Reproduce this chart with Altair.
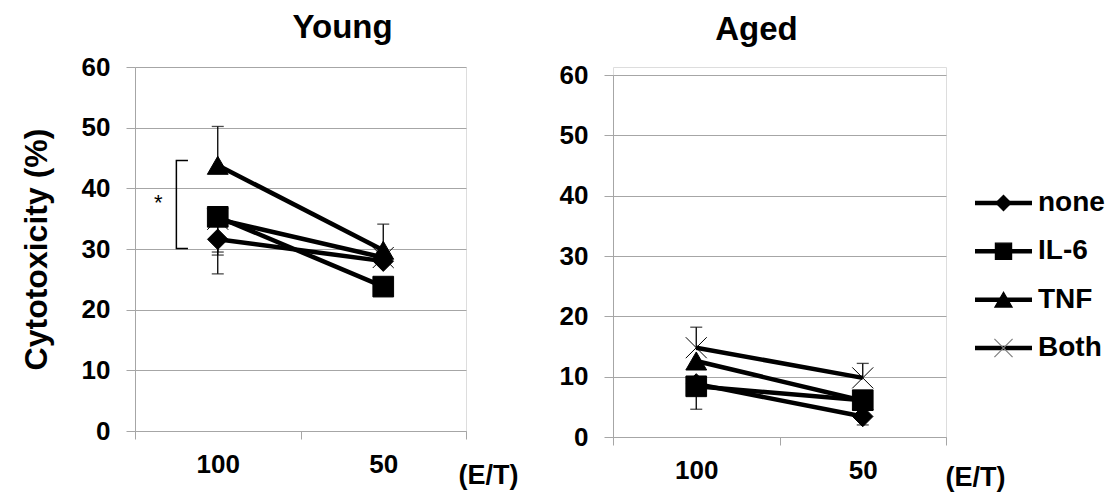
import altair as alt
import pandas as pd

FONT = "Liberation Sans"
GRID = "#a6a6a6"

categories = ["100", "50"]
series = ["none", "IL-6", "TNF", "Both"]

young_none = [31.6, 28.0]
young_il6 = [35.3, 23.8]
young_tnf = [43.8, 29.8]
young_both = [34.9, 28.6]

aged_none = [8.8, 3.4]
aged_il6 = [8.4, 6.1]
aged_tnf = [12.6, 6.0]
aged_both = [14.8, 9.8]

young_err_cat = ["100", "100", "100", "100", "50"]
young_err_series = ["TNF", "none", "IL-6", "Both", "TNF"]
young_err_end = [50.2, 25.9, 29.5, 29.0, 34.1]

aged_err_cat = ["100", "100", "50", "50"]
aged_err_series = ["Both", "IL-6", "Both", "none"]
aged_err_end = [18.2, 4.6, 12.2, 2.0]

# significance bracket (category units 0..2 on x, % on y)
sig_bracket_x = [0.32, 0.25, 0.25, 0.32]
sig_bracket_y = [44.6, 44.6, 30.1, 30.1]
sig_star_x = [0.14]
sig_star_y = [38.1]
sig_star_text = ["*"]


def long_df(vals):
    rows = []
    for s, v in zip(series, vals):
        for c, y in zip(categories, v):
            rows.append({"et": c, "series": s, "value": y})
    return pd.DataFrame(rows)


def err_df(main, cats, sers, ends):
    rows = []
    for c, s, e in zip(cats, sers, ends):
        v = main[(main.et == c) & (main.series == s)].value.iloc[0]
        rows.append({"et": c, "series": s, "value": v, "end": e})
    return pd.DataFrame(rows)


young = long_df([young_none, young_il6, young_tnf, young_both])
aged = long_df([aged_none, aged_il6, aged_tnf, aged_both])
young_err = err_df(young, young_err_cat, young_err_series, young_err_end)
aged_err = err_df(aged, aged_err_cat, aged_err_series, aged_err_end)

shape_scale = alt.Scale(domain=series,
                        range=["diamond", "square", "triangle-up", "M-1,-1L1,1M-1,1L1,-1"])


def y_axis(with_title):
    kw = dict(values=[0, 10, 20, 30, 40, 50, 60], grid=True, gridColor=GRID,
              domainColor=GRID, tickColor=GRID, tickSize=9,
              labelFontSize=26, labelFont=FONT, labelFontWeight="bold",
              labelColor="black", labelPadding=16)
    if with_title:
        kw.update(title="Cytotoxicity (%)", titleFontSize=32, titleFont=FONT,
                  titleFontWeight="bold", titleColor="black", titlePadding=28)
    else:
        kw.update(title=None)
    return alt.Axis(**kw)


def x_axis(tx, ty):
    return alt.Axis(tickBand="extent", labelAngle=0, tickSize=8, grid=False,
                    domainColor=GRID, tickColor=GRID,
                    labelFontSize=26, labelFont=FONT, labelFontWeight="bold",
                    labelColor="black", labelPadding=12,
                    title="(E/T)", titleX=tx, titleY=ty, titleAlign="center",
                    titleBaseline="middle", titleFontSize=27, titleFont=FONT,
                    titleFontWeight="bold", titleColor="black")


def main_layer(df, edf, with_title, tx, ty, y_scale):
    x = alt.X("et:N", sort=categories,
              scale=alt.Scale(type="band", domain=categories, paddingInner=0, paddingOuter=0),
              axis=x_axis(tx, ty))
    y = alt.Y("value:Q", scale=y_scale, axis=y_axis(with_title))
    err_rule = alt.Chart(edf).mark_rule(color="black", strokeWidth=1.3).encode(
        x=x, y=y, y2="end:Q")
    err_cap = alt.Chart(edf).mark_tick(color="black", thickness=1.3, size=12,
                                       orient="horizontal").encode(x=x, y="end:Q")
    lines = alt.Chart(df).mark_line(color="black", strokeWidth=4.5).encode(
        x=x, y=y, detail="series:N")
    pts = alt.Chart(df).mark_point(filled=True, opacity=1, color="black",
                                   stroke="black").encode(
        x=x, y=y,
        shape=alt.Shape("series:N", scale=shape_scale, legend=None),
        size=alt.Size("series:O", scale=alt.Scale(domain=series, range=[420, 441, 560, 460]),
                      legend=None),
        strokeWidth=alt.StrokeWidth("series:O",
                                    scale=alt.Scale(domain=series, range=[1, 1, 1, 3.5]),
                                    legend=None),
    )
    return alt.layer(err_rule, err_cap, lines, pts)


# ---- Young panel
young_y = alt.Scale(domain=[0, 60])
young_main = main_layer(young, young_err, True, 353, 44, young_y)
bx_scale = alt.Scale(domain=[0, 2])
bracket_df = pd.DataFrame({"bx": sig_bracket_x, "value": sig_bracket_y,
                           "o": list(range(len(sig_bracket_x)))})
star_df = pd.DataFrame({"bx": sig_star_x, "value": sig_star_y, "t": sig_star_text})
bracket = alt.Chart(bracket_df).mark_line(color="black", strokeWidth=1.5).encode(
    x=alt.X("bx:Q", scale=bx_scale, axis=None),
    y=alt.Y("value:Q", scale=young_y),
    order="o:Q")
star = alt.Chart(star_df).mark_text(fontSize=22, font=FONT, color="black", dy=3).encode(
    x=alt.X("bx:Q", scale=bx_scale, axis=None),
    y=alt.Y("value:Q", scale=young_y),
    text="t:N")
young_chart = alt.layer(young_main, alt.layer(bracket, star)).resolve_scale(
    x="independent").properties(
    width=331, height=364,
    title=alt.TitleParams("Young", font=FONT, fontSize=33, fontWeight="bold",
                          color="black", anchor="middle", dx=42, offset=9))

# ---- Aged panel with legend (plot area starts 8 px lower than Young's)
aged_y = alt.Scale(domain=[0, 60], range=[370, 8])
aged_main = main_layer(aged, aged_err, False, 362, 40, aged_y)
legend_df = pd.DataFrame({"series": series, "lx0": 0.0, "lx1": 1.0, "lm": 0.5})
leg_x = alt.Scale(domain=[0, 1], range=[362, 419])
leg_y = alt.Scale(type="point", domain=series, range=[136, 281], padding=0)
leg_colors = alt.Scale(domain=series, range=["black", "black", "black", "#7f7f7f"])
leg_rule = alt.Chart(legend_df).mark_rule(color="black", strokeWidth=4.5).encode(
    x=alt.X("lx0:Q", scale=leg_x, axis=None), x2="lx1:Q",
    y=alt.Y("series:N", scale=leg_y, axis=None))
leg_pts = alt.Chart(legend_df).mark_point(filled=True, opacity=1).encode(
    x=alt.X("lm:Q", scale=leg_x, axis=None),
    y=alt.Y("series:N", scale=leg_y, axis=None),
    shape=alt.Shape("series:N", scale=shape_scale, legend=None),
    size=alt.Size("series:O", scale=alt.Scale(domain=series, range=[230, 330, 330, 500]),
                  legend=None),
    color=alt.Color("series:N", scale=leg_colors, legend=None),
    stroke=alt.Stroke("series:N", scale=leg_colors, legend=None),
    strokeWidth=alt.value(1.2))
leg_text = alt.Chart(legend_df).mark_text(align="left", baseline="middle", dx=6, fontSize=28,
                                          fontWeight="bold", font=FONT, color="black").encode(
    x=alt.X("lx1:Q", scale=leg_x, axis=None),
    y=alt.Y("series:N", scale=leg_y, axis=None),
    text="series:N")
aged_chart = alt.layer(aged_main, alt.layer(leg_rule, leg_pts, leg_text)).resolve_scale(
    x="independent", y="independent", size="independent", color="independent",
    stroke="independent").properties(
    width=333, height=370,
    title=alt.TitleParams("Aged", font=FONT, fontSize=33, fontWeight="bold",
                          color="black", anchor="middle", dx=-23, offset=15))

chart = alt.hconcat(young_chart, aged_chart, spacing=39).configure_view(
    stroke=None).configure(font=FONT).properties(
    padding={"left": 19, "top": 11, "right": 5, "bottom": 5}, background="white")

chart.save("out.html", embed_options={"renderer": "svg", "actions": False})
